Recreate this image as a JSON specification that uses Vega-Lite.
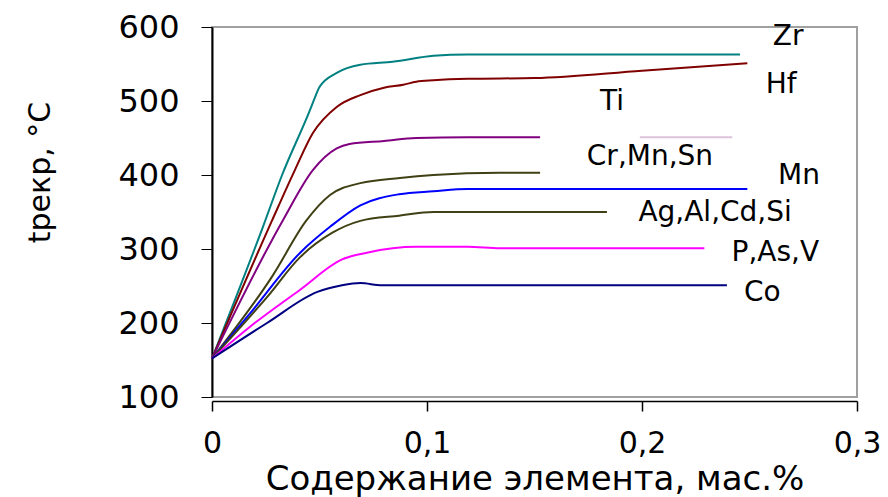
{
  "$schema": "https://vega.github.io/schema/vega-lite/v6.json",
  "autosize": "none",
  "width": 645,
  "height": 370,
  "padding": {"left": 212, "top": 27, "right": 31, "bottom": 100},
  "background": "white",
  "config": {
    "view": {"stroke": "#a0a0a0", "strokeWidth": 2},
    "font": "DejaVu Sans"
  },
  "datasets": {
    "lines": [
      {"s": "Zr", "x": 0, "y": 152}, {"s": "Zr", "x": 0.0237, "y": 330}, {"s": "Zr", "x": 0.0326, "y": 400}, {"s": "Zr", "x": 0.0456, "y": 488}, {"s": "Zr", "x": 0.0479, "y": 505}, {"s": "Zr", "x": 0.05, "y": 519}, {"s": "Zr", "x": 0.058, "y": 538}, {"s": "Zr", "x": 0.069, "y": 549}, {"s": "Zr", "x": 0.084, "y": 553}, {"s": "Zr", "x": 0.103, "y": 561}, {"s": "Zr", "x": 0.119, "y": 563}, {"s": "Zr", "x": 0.2456, "y": 563},
      {"s": "Hf", "x": 0, "y": 152}, {"s": "Hf", "x": 0.028, "y": 339}, {"s": "Hf", "x": 0.0386, "y": 407}, {"s": "Hf", "x": 0.047, "y": 457}, {"s": "Hf", "x": 0.058, "y": 492}, {"s": "Hf", "x": 0.069, "y": 508}, {"s": "Hf", "x": 0.08, "y": 518}, {"s": "Hf", "x": 0.089, "y": 522}, {"s": "Hf", "x": 0.095, "y": 526}, {"s": "Hf", "x": 0.103, "y": 528}, {"s": "Hf", "x": 0.119, "y": 530}, {"s": "Hf", "x": 0.15, "y": 531}, {"s": "Hf", "x": 0.2, "y": 541}, {"s": "Hf", "x": 0.249, "y": 551},
      {"s": "Ti", "x": 0, "y": 152}, {"s": "Ti", "x": 0.033, "y": 339}, {"s": "Ti", "x": 0.047, "y": 407}, {"s": "Ti", "x": 0.058, "y": 436}, {"s": "Ti", "x": 0.064, "y": 442}, {"s": "Ti", "x": 0.08, "y": 446}, {"s": "Ti", "x": 0.095, "y": 450}, {"s": "Ti", "x": 0.119, "y": 451}, {"s": "Ti", "x": 0.1526, "y": 451},
      {"s": "Ti2", "x": 0.199, "y": 451}, {"s": "Ti2", "x": 0.242, "y": 451},
      {"s": "Cr", "x": 0, "y": 152}, {"s": "Cr", "x": 0.028, "y": 263}, {"s": "Cr", "x": 0.044, "y": 339}, {"s": "Cr", "x": 0.0549, "y": 373}, {"s": "Cr", "x": 0.069, "y": 389}, {"s": "Cr", "x": 0.0874, "y": 396}, {"s": "Cr", "x": 0.103, "y": 400}, {"s": "Cr", "x": 0.134, "y": 403}, {"s": "Cr", "x": 0.1526, "y": 403},
      {"s": "Mn", "x": 0, "y": 152}, {"s": "Mn", "x": 0.0177, "y": 213}, {"s": "Mn", "x": 0.041, "y": 295}, {"s": "Mn", "x": 0.0549, "y": 330}, {"s": "Mn", "x": 0.069, "y": 359}, {"s": "Mn", "x": 0.087, "y": 374}, {"s": "Mn", "x": 0.103, "y": 378}, {"s": "Mn", "x": 0.119, "y": 381}, {"s": "Mn", "x": 0.249, "y": 381},
      {"s": "Ag", "x": 0, "y": 152}, {"s": "Ag", "x": 0.0256, "y": 235}, {"s": "Ag", "x": 0.041, "y": 289}, {"s": "Ag", "x": 0.056, "y": 322}, {"s": "Ag", "x": 0.069, "y": 338}, {"s": "Ag", "x": 0.087, "y": 345}, {"s": "Ag", "x": 0.103, "y": 350}, {"s": "Ag", "x": 0.1837, "y": 350},
      {"s": "P", "x": 0, "y": 152}, {"s": "P", "x": 0.0177, "y": 195}, {"s": "P", "x": 0.041, "y": 245}, {"s": "P", "x": 0.0605, "y": 286}, {"s": "P", "x": 0.072, "y": 295}, {"s": "P", "x": 0.095, "y": 303}, {"s": "P", "x": 0.119, "y": 303}, {"s": "P", "x": 0.134, "y": 301}, {"s": "P", "x": 0.229, "y": 301},
      {"s": "Co", "x": 0, "y": 152}, {"s": "Co", "x": 0.0256, "y": 200}, {"s": "Co", "x": 0.049, "y": 242}, {"s": "Co", "x": 0.0605, "y": 251}, {"s": "Co", "x": 0.069, "y": 254}, {"s": "Co", "x": 0.079, "y": 251}, {"s": "Co", "x": 0.2395, "y": 251}
    ],
    "labels": [
      {"t": "Zr", "x": 0.268, "y": 586},
      {"t": "Hf", "x": 0.2647, "y": 522},
      {"t": "Ti", "x": 0.186, "y": 499},
      {"t": "Cr,Mn,Sn", "x": 0.2037, "y": 424},
      {"t": "Mn", "x": 0.273, "y": 399},
      {"t": "Ag,Al,Cd,Si", "x": 0.234, "y": 349},
      {"t": "P,As,V", "x": 0.262, "y": 295},
      {"t": "Co", "x": 0.256, "y": 240}
    ]
  },
  "layer": [
    {
      "data": {"name": "lines"},
      "mark": {"type": "line", "strokeWidth": 2, "clip": false, "interpolate": "monotone"},
      "encoding": {
        "x": {
          "field": "x", "type": "quantitative",
          "scale": {"domain": [0, 0.3], "nice": false, "zero": false},
          "axis": {
            "values": [0, 0.1, 0.2, 0.3],
            "labelExpr": "datum.value == 0 ? '0' : replace(format(datum.value, '.1f'), '.', ',')",
            "grid": false, "offset": 4,
            "domainColor": "black", "domainWidth": 1.5,
            "tickColor": "black", "tickSize": 10, "tickWidth": 1.5,
            "labelFontSize": 30, "labelColor": "black", "labelPadding": 17, "labelFont": "DejaVu Sans",
            "labelFlush": false,
            "title": "Содержание элемента, мас.%",
            "titleFontSize": 34, "titleFontWeight": "normal", "titleColor": "black", "titleFont": "DejaVu Sans",
            "titlePadding": 4
          }
        },
        "y": {
          "field": "y", "type": "quantitative",
          "scale": {"domain": [100, 600], "nice": false, "zero": false},
          "axis": {
            "values": [100, 200, 300, 400, 500, 600],
            "grid": false,
            "domainColor": "black", "domainWidth": 2,
            "tickColor": "black", "tickSize": 11, "tickWidth": 1,
            "labelFontSize": 32, "labelColor": "black", "labelPadding": 22, "labelFont": "DejaVu Sans",
            "labelFlush": false,
            "title": "tрекр, °C",
            "titleFontSize": 30, "titleFontWeight": "normal", "titleColor": "black", "titleFont": "DejaVu Sans",
            "titleAngle": -90, "titleX": -172, "titleY": 145, "titleAlign": "center", "titleBaseline": "middle"
          }
        },
        "detail": {"field": "s"},
        "color": {
          "field": "s", "type": "nominal", "legend": null,
          "scale": {
            "domain": ["Zr", "Hf", "Ti", "Ti2", "Cr", "Mn", "Ag", "P", "Co"],
            "range": ["#008080", "#800000", "#800080", "#dcc4dc", "#404015", "#0000ff", "#404015", "#ff00ff", "#000080"]
          }
        }
      }
    },
    {
      "data": {"name": "labels"},
      "mark": {"type": "text", "fontSize": 28, "font": "DejaVu Sans", "color": "black", "align": "center", "baseline": "middle", "clip": false},
      "encoding": {
        "x": {"field": "x", "type": "quantitative"},
        "y": {"field": "y", "type": "quantitative"},
        "text": {"field": "t"}
      }
    }
  ]
}
